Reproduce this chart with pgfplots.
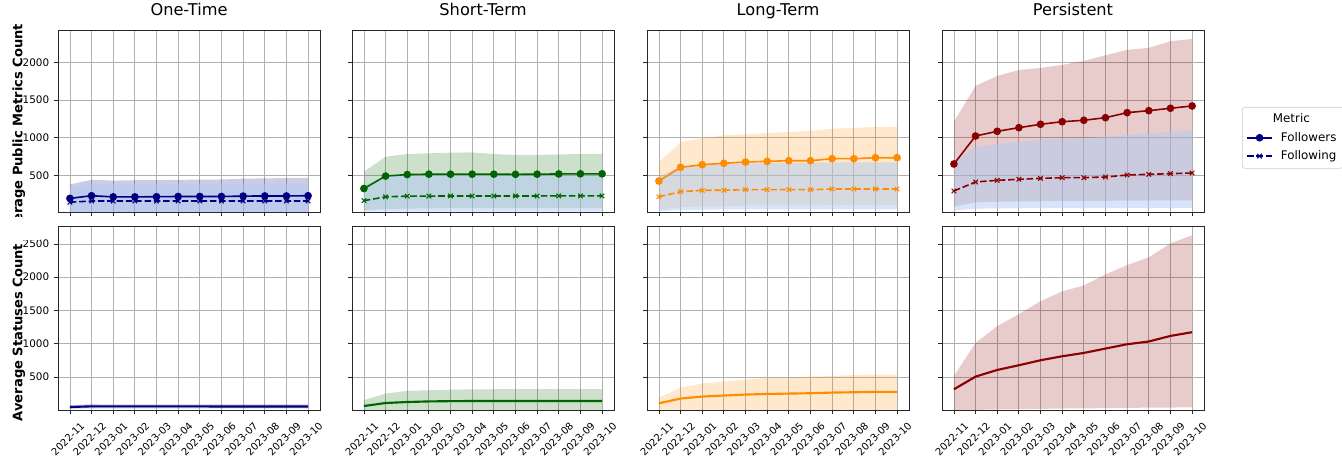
\documentclass[border=0pt]{standalone}
\usepackage{fontspec}
\setmainfont{DejaVu Sans}
\usepackage{pgfplots}
\pgfplotsset{compat=1.18}
\usepackage{pgfplotstable}
\usepgfplotslibrary{fillbetween}

\definecolor{mnavy}{RGB}{0,0,128}
\definecolor{mgreen}{RGB}{0,100,0}
\definecolor{morange}{RGB}{255,140,0}
\definecolor{mred}{RGB}{139,0,0}
\definecolor{fblue}{RGB}{175,201,245}
\definecolor{gridgray}{RGB}{176,176,176}
\definecolor{spine}{RGB}{40,40,40}
\definecolor{legendgray}{RGB}{204,204,204}

% followers mean/upper/lower, following mean/upper/lower
\pgfplotstableread{
x fm fu fl gm gu gl
0 200 385 10 150 360 5
1 235 445 10 165 385 5
2 220 435 10 165 385 5
3 220 440 10 165 385 5
4 222 442 10 165 385 5
5 225 445 10 165 385 5
6 225 448 10 165 385 5
7 225 450 10 165 385 5
8 230 460 10 165 385 5
9 232 465 10 165 385 5
10 232 468 10 165 385 5
11 235 470 10 165 385 5
}\topOne
\pgfplotstableread{
x fm fu fl gm gu gl
0 330 553 45 170 370 25
1 495 751 60 220 495 25
2 515 787 65 230 500 25
3 520 796 68 230 502 25
4 520 804 70 232 502 25
5 520 808 70 232 502 25
6 520 787 70 232 502 25
7 518 774 70 232 500 25
8 520 774 70 232 500 25
9 523 781 70 233 500 25
10 525 787 70 233 500 25
11 525 787 70 233 500 25
}\topShort
\pgfplotstableread{
x fm fu fl gm gu gl
0 430 677 50 222 487 30
1 611 942 85 288 619 45
2 646 995 95 307 641 50
3 664 1034 100 307 655 55
4 681 1047 103 315 663 55
5 690 1065 105 315 668 55
6 698 1078 107 315 668 55
7 698 1091 108 315 672 55
8 725 1122 110 324 677 55
9 725 1131 112 324 677 55
10 738 1144 112 324 677 55
11 738 1148 112 324 677 55
}\topLong
\pgfplotstableread{
x fm fu fl gm gu gl
0 655 1214 90 298 685 40
1 1025 1687 150 417 870 65
2 1087 1819 155 439 919 68
3 1135 1898 160 452 950 70
4 1180 1925 162 465 972 70
5 1214 1965 165 474 989 70
6 1233 2018 165 474 999 72
7 1267 2093 168 483 1008 72
8 1334 2164 170 509 1038 73
9 1360 2190 172 518 1060 73
10 1392 2278 174 527 1078 74
11 1422 2309 175 536 1095 74
}\topPers

% statuses mean/upper/lower
\pgfplotstableread{
x s su sl
0 48 75 20
1 58 90 28
2 58 88 28
3 58 88 28
4 57 88 27
5 57 87 27
6 57 86 27
7 56 86 26
8 56 86 26
9 56 86 26
10 56 86 26
11 56 86 26
}\botOne
\pgfplotstableread{
x s su sl
0 63 150 -10
1 108 250 -10
2 123 290 -10
3 132 300 -10
4 136 308 -10
5 138 313 -10
6 139 315 -10
7 139 315 -10
8 139 315 -10
9 139 315 -10
10 139 315 -10
11 139 315 -10
}\botShort
\pgfplotstableread{
x s su sl
0 104 184 -10
1 175 340 -10
2 205 400 -10
3 220 430 -10
4 235 460 -10
5 244 485 -10
6 250 495 -10
7 255 505 -10
8 265 515 -10
9 270 530 -10
10 275 535 -10
11 275 535 -10
}\botLong
\pgfplotstableread{
x s su sl
0 314 515 0
1 505 1012 5
2 605 1264 10
3 676 1444 15
4 751 1640 20
5 811 1786 25
6 861 1876 28
7 927 2042 30
8 992 2182 35
9 1033 2298 38
10 1117 2509 40
11 1173 2630 42
}\botPers

\pgfplotsset{
  base/.style={
    scale only axis, width=196.5pt,
    xmin=-0.55, xmax=11.55, xtick={0,...,11},
    tick pos=left, tick align=outside, major tick length=3.1pt,
    grid=major, grid style={color=gridgray, line width=0.6pt},
    axis line style={color=spine, line width=0.6pt},
    every tick/.style={color=spine, line width=0.6pt},
    tick label style={font=\fontsize{7.8}{9}\selectfont, color=black},
    /pgf/number format/assume math mode=true,
    /pgf/number format/set thousands separator={},
    title style={at={(axis description cs:0.5,1)}, anchor=base, yshift=4.5pt,
      font=\fontsize{12.15}{14}\selectfont},
    ylabel style={anchor=center, font=\bfseries\fontsize{9.8}{11}\selectfont},
  },
  toprow/.style={base, height=136.5pt, ymin=20, ymax=2427,
    ytick={500,1000,1500,2000}, xticklabels={}},
  botrow/.style={base, height=138pt, ymin=3, ymax=2770,
    ytick={500,1000,1500,2000,2500},
    xticklabels={2022-11,2022-12,2023-01,2023-02,2023-03,2023-04,2023-05,2023-06,2023-07,2023-08,2023-09,2023-10},
    xticklabel style={font=\fontsize{7.5}{9}\selectfont, xshift=7.5pt, yshift=-0.5pt,
      rotate=45, anchor=north east}},
  nolab/.style={yticklabels={}},
}

\newcommand{\toppanel}[3]{%
  \addplot[name path=fu#3, draw=none, forget plot] table[x=x, y=fu] {#1};
  \addplot[name path=fl#3, draw=none, forget plot] table[x=x, y=fl] {#1};
  \addplot[#2, fill opacity=0.2, draw=none, forget plot] fill between[of=fu#3 and fl#3];
  \addplot[name path=gu#3, draw=none, forget plot] table[x=x, y=gu] {#1};
  \addplot[name path=gl#3, draw=none, forget plot] table[x=x, y=gl] {#1};
  \addplot[fblue, fill opacity=0.5, draw=none, forget plot] fill between[of=gu#3 and gl#3];
  \addplot[#2, line width=1.2pt, mark=*, mark size=2.25pt, forget plot] table[x=x, y=fm] {#1};
  \addplot[#2, line width=1.2pt, dash pattern=on 4.9pt off 2.1pt, mark=x, mark size=2.4pt,
    mark options={solid, line width=0.8pt}, forget plot] table[x=x, y=gm] {#1};
}
\newcommand{\botpanel}[3]{%
  \addplot[name path=su#3, draw=none, forget plot] table[x=x, y=su] {#1};
  \addplot[name path=sl#3, draw=none, forget plot] table[x=x, y=sl] {#1};
  \addplot[#2, fill opacity=0.2, draw=none, forget plot] fill between[of=su#3 and sl#3];
  \addplot[#2, line width=1.6pt, forget plot] table[x=x, y=s] {#1};
}

\begin{document}
\begin{tikzpicture}

% top row
\begin{axis}[toprow, at={(43.5pt,183pt)}, anchor=south west, title={One-Time},
  ylabel={Average Public Metrics Count},
  ylabel style={at={(axis description cs:-0.150,0.437)}}]
\toppanel{\topOne}{mnavy}{a}
\end{axis}
\begin{axis}[toprow, nolab, at={(264pt,183pt)}, anchor=south west, title={Short-Term}]
\toppanel{\topShort}{mgreen}{b}
\end{axis}
\begin{axis}[toprow, nolab, at={(485.25pt,183pt)}, anchor=south west, title={Long-Term}]
\toppanel{\topLong}{morange}{c}
\end{axis}
\begin{axis}[toprow, nolab, at={(706.5pt,183pt)}, anchor=south west, title={Persistent},
  legend cell align=left,
  legend image code/.code={\draw[mark repeat=2, mark phase=2]
    plot coordinates {(0pt,0pt) (9.4pt,0pt) (18.8pt,0pt)};},
  legend style={at={(1.145,0.577)}, anchor=north west, draw=legendgray,
    rounded corners=2pt, fill=white, font=\fontsize{8.9}{10.5}\selectfont,
    row sep=1.5pt, inner xsep=3pt, inner ysep=3pt,
    /tikz/every odd column/.append style={column sep=4pt}}]
\toppanel{\topPers}{mred}{d}
\addlegendimage{empty legend}
\addlegendentry{\hspace*{-6pt}Metric}
\addlegendimage{mnavy, line width=1.2pt, mark=*, mark size=2.25pt}
\addlegendentry{Followers}
\addlegendimage{mnavy, line width=1.2pt, dash pattern=on 4.9pt off 2.1pt, mark=x,
  mark size=2.4pt, mark options={solid, line width=0.8pt}}
\addlegendentry{Following}
\end{axis}

% bottom row
\begin{axis}[botrow, at={(43.5pt,34.5pt)}, anchor=south west,
  ylabel={Average Statuses Count},
  ylabel style={at={(axis description cs:-0.149,0.421)}}]
\botpanel{\botOne}{mnavy}{e}
\end{axis}
\begin{axis}[botrow, nolab, at={(264pt,34.5pt)}, anchor=south west]
\botpanel{\botShort}{mgreen}{f}
\end{axis}
\begin{axis}[botrow, nolab, at={(485.25pt,34.5pt)}, anchor=south west]
\botpanel{\botLong}{morange}{g}
\end{axis}
\begin{axis}[botrow, nolab, at={(706.5pt,34.5pt)}, anchor=south west]
\botpanel{\botPers}{mred}{h}
\end{axis}

% the first row's label is cut off at its lower end in the reference
\fill[white] (0pt,162pt) rectangle (30pt,179.25pt);
\pgfresetboundingbox
\useasboundingbox (0,0) rectangle (1006.5pt,342pt);
\end{tikzpicture}
\end{document}
